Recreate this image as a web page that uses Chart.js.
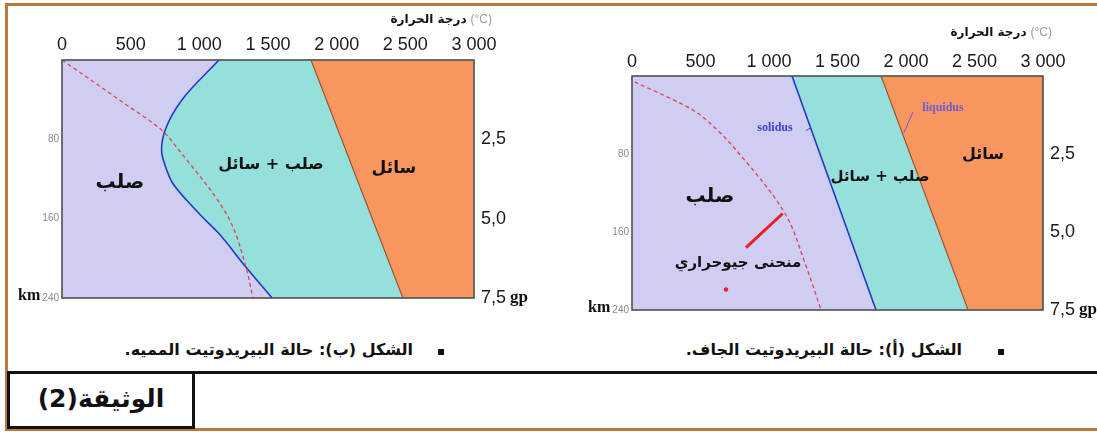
<!DOCTYPE html>
<html lang="ar">
<head>
<meta charset="utf-8">
<script src="https://cdn.jsdelivr.net/npm/chart.js@4"></script>
<style>
  body { margin: 0; width: 1097px; height: 432px; position: relative; overflow: hidden; background: #fff; font-family: "DejaVu Sans", sans-serif; }
  .frame { position: absolute; left: 5px; top: 3px; width: 1100px; height: 428px; box-sizing: border-box; border: 3px solid #b7793f; border-right: none; }
  .panel { position: absolute; top: 0; }
  .caption { position: absolute; top: 340px; direction: rtl; font-weight: bold; font-size: 16px; white-space: nowrap; color: #111; }
  .bullet { position: absolute; top: 349px; width: 6px; height: 6px; background: #111; }
  .rule { position: absolute; left: 193px; right: 0; top: 371px; height: 3px; background: #111; }
  .docbox { position: absolute; left: 7px; top: 371px; width: 188px; height: 58px; box-sizing: border-box; border: 3px solid #111; direction: rtl; text-align: center; font-weight: bold; font-size: 25px; line-height: 50px; color: #111; }
</style>
</head>
<body>
<div class="frame"></div>
<canvas id="chart-b" class="panel" style="left:0" width="545" height="320"></canvas>
<canvas id="chart-a" class="panel" style="left:560px" width="537" height="330"></canvas>

<div class="bullet" style="left:438px"></div>
<div class="caption" style="right:684px">الشكل (ب): حالة البيريدوتيت المميه.</div>
<div class="bullet" style="left:998px"></div>
<div class="caption" style="right:135px">الشكل (أ): حالة البيريدوتيت الجاف.</div>
<div class="rule"></div>
<div class="docbox">الوثيقة(2)</div>

<script>
// axes
const tempTicks = [0, 500, 1000, 1500, 2000, 2500, 3000];
const depthTicks = [0, 80, 160, 240];
const pressureTicks = [0, 2.5, 5.0, 7.5];

// figure (b): hydrated peridotite
const bSolidusDepth = [0, 40, 71, 91, 108, 124, 141, 158, 174, 209, 240];
const bSolidusTemp = [1143, 874, 750, 725, 755, 805, 905, 1020, 1136, 1340, 1530];
const bLiquidusDepth = [0, 240];
const bLiquidusTemp = [1813, 2482];
const bGeothermDepth = [0, 40, 71, 91, 158, 209, 240];
const bGeothermTemp = [0, 415, 728, 852, 1208, 1340, 1390];

// figure (a): dry peridotite
const aSolidusDepth = [0, 240];
const aSolidusTemp = [1168, 1781];
const aLiquidusDepth = [0, 240];
const aLiquidusTemp = [1818, 2453];
const aGeothermDepth = [6, 35, 55, 76, 141, 192, 240];
const aGeothermTemp = [20, 445, 620, 760, 1117, 1263, 1380];
const aPointerDepth = [141, 176];
const aPointerTemp = [1100, 832];
const aDotDepth = [219];
const aDotTemp = [686];
const aSolidusTagDepth = [56, 53];
const aSolidusTagTemp = [1270, 1307];
const aLiquidusTagDepth = [37, 58];
const aLiquidusTagTemp = [2051, 1985];

const SANS = '"Liberation Sans", Arial, sans-serif';
const ARABIC = '"DejaVu Sans", sans-serif';

const pts = (temps, depths) => temps.map((t, i) => ({ x: t, y: depths[i] }));

function fmtTemp(v) {
    if (v < 1000) return String(v);
    return Math.floor(v / 1000) + ' ' + String(v % 1000).padStart(3, '0');
}

// labels written inside each panel
const notes = {
    'chart-b': {
        titleDx: 18, titleDy: -40,
        items: [
            { text: 'صلب', t: 422, d: 124, size: 20 },
            { text: 'صلب + سائل', t: 1522, d: 106, size: 16 },
            { text: 'سائل', t: 2417, d: 109, size: 17 }
        ]
    },
    'chart-a': {
        titleDx: 9, titleDy: -43,
        items: [
            { text: 'صلب', t: 569, d: 124, size: 20 },
            { text: 'صلب + سائل', t: 1810, d: 104, size: 15 },
            { text: 'سائل', t: 2562, d: 81, size: 16 },
            { text: 'منحنى جيوحراري', t: 774, d: 192, size: 15 },
            { text: 'solidus', t: 1044, d: 53, size: 12, latin: true, color: '#3b3fd2' },
            { text: 'liquidus', t: 2270, d: 33, size: 12, latin: true, color: '#6f5ad6' }
        ]
    }
};

const panelText = {
    id: 'panelText',
    afterDraw(chart) {
        const { ctx, chartArea: a, scales: { x, y } } = chart;
        const cfg = notes[chart.canvas.id];
        ctx.save();

        // plot frame
        ctx.strokeStyle = '#4f4f4f';
        ctx.lineWidth = 1.6;
        ctx.strokeRect(a.left, a.top, a.right - a.left, a.bottom - a.top);

        // axis title: arabic then (°C)
        const tx = a.right + cfg.titleDx;
        const ty = a.top + cfg.titleDy;
        ctx.textBaseline = 'middle';
        ctx.textAlign = 'right';
        ctx.font = '12px ' + SANS;
        ctx.fillStyle = '#9a9a9a';
        ctx.fillText('(°C)', tx, ty);
        const cw = ctx.measureText('(°C)').width;
        ctx.font = 'bold 12px ' + ARABIC;
        ctx.fillStyle = '#111';
        ctx.direction = 'rtl';
        ctx.fillText('درجة الحرارة', tx - cw - 4, ty);
        ctx.direction = 'ltr';

        // km and gp units
        const yb = y.getPixelForValue(240);
        ctx.font = '10px ' + SANS;
        const w240 = ctx.measureText('240').width;
        ctx.font = 'bold 16px "Liberation Serif", serif';
        ctx.fillText('km', a.left - 3 - w240 - 2, yb - 2);
        ctx.font = '18px ' + SANS;
        const w75 = ctx.measureText('7,5').width;
        ctx.textAlign = 'left';
        ctx.font = 'bold 17px "Liberation Serif", serif';
        ctx.fillText('gp', a.right + 7 + w75 + 4, yb);

        // region and curve labels
        ctx.textAlign = 'center';
        cfg.items.forEach(n => {
            ctx.fillStyle = n.color || '#111';
            if (n.latin) {
                ctx.direction = 'ltr';
                ctx.font = 'bold ' + n.size + 'px "Liberation Serif", serif';
            } else {
                ctx.direction = 'rtl';
                ctx.font = 'bold ' + n.size + 'px ' + ARABIC;
            }
            ctx.fillText(n.text, x.getPixelForValue(n.t), y.getPixelForValue(n.d));
        });
        ctx.restore();
    }
};

function buildPanel(id, p) {
    const datasets = [
        { data: pts(p.geoT, p.geoD), borderColor: '#e2434b', borderWidth: 1.3, borderDash: [4, 3], fill: false },
        { data: pts(p.solT, p.solD), borderColor: '#2538c8', borderWidth: 1.6, backgroundColor: '#96e0dc', fill: 2 },
        { data: pts(p.liqT, p.liqD), borderColor: '#9b4a25', borderWidth: 1.1, backgroundColor: '#f7975f', fill: { value: 3000 } },
        { data: pts(p.solT, p.solD), borderColor: 'rgba(0,0,0,0)', borderWidth: 0, backgroundColor: '#cfcdf2', fill: { value: 0 } }
    ].concat(p.extra || []);

    return new Chart(document.getElementById(id).getContext('2d'), {
        type: 'line',
        data: { datasets },
        options: {
            indexAxis: 'y',
            responsive: false,
            animation: false,
            layout: { padding: { left: 0, right: 0, top: 0, bottom: p.padBottom } },
            elements: { point: { radius: 0 }, line: { cubicInterpolationMode: 'monotone' } },
            plugins: {
                legend: { display: false },
                tooltip: { enabled: false },
                filler: { drawTime: 'beforeDatasetsDraw' }
            },
            scales: {
                x: {
                    type: 'linear', position: 'top', min: 0, max: 3000,
                    grid: { display: false, drawTicks: false }, border: { display: false },
                    afterBuildTicks: s => { s.ticks = tempTicks.map(v => ({ value: v })); },
                    afterFit: s => { s.height = p.topH; },
                    ticks: { padding: p.tickPad, maxRotation: 0, autoSkip: false, color: '#1a1a1a', font: { family: SANS, size: 18 }, callback: fmtTemp }
                },
                y: {
                    type: 'linear', position: 'left', reverse: true, min: 0, max: 240,
                    grid: { display: false, drawTicks: false }, border: { display: false },
                    afterBuildTicks: s => { s.ticks = depthTicks.map(v => ({ value: v })); },
                    afterFit: s => { s.width = p.leftW; },
                    ticks: { padding: 3, color: '#8a8a8a', font: { family: SANS, size: 10 }, callback: v => v === 0 ? '' : String(v) }
                },
                y2: {
                    type: 'linear', position: 'right', reverse: true, min: 0, max: 7.5,
                    grid: { display: false, drawTicks: false }, border: { display: false },
                    afterBuildTicks: s => { s.ticks = pressureTicks.map(v => ({ value: v })); },
                    afterFit: s => { s.width = p.rightW; },
                    ticks: { padding: 7, color: '#1a1a1a', font: { family: SANS, size: 18 }, callback: v => v === 0 ? '' : v.toFixed(1).replace('.', ',') }
                }
            }
        },
        plugins: [panelText]
    });
}

buildPanel('chart-b', {
    geoT: bGeothermTemp, geoD: bGeothermDepth,
    solT: bSolidusTemp, solD: bSolidusDepth,
    liqT: bLiquidusTemp, liqD: bLiquidusDepth,
    leftW: 62, rightW: 71, topH: 60, padBottom: 22, tickPad: 4
});

buildPanel('chart-a', {
    geoT: aGeothermTemp, geoD: aGeothermDepth,
    solT: aSolidusTemp, solD: aSolidusDepth,
    liqT: aLiquidusTemp, liqD: aLiquidusDepth,
    leftW: 72, rightW: 54, topH: 76, padBottom: 20, tickPad: 3,
    extra: [
        { data: pts(aPointerTemp, aPointerDepth), borderColor: '#ee1c25', borderWidth: 3, fill: false, cubicInterpolationMode: 'default' },
        { data: pts(aDotTemp, aDotDepth), borderColor: '#ee1c25', backgroundColor: '#ee1c25', pointRadius: 1.8, showLine: false, fill: false },
        { data: pts(aSolidusTagTemp, aSolidusTagDepth), borderColor: '#3b3fd2', borderWidth: 1, fill: false, cubicInterpolationMode: 'default' },
        { data: pts(aLiquidusTagTemp, aLiquidusTagDepth), borderColor: '#6f5ad6', borderWidth: 1, fill: false, cubicInterpolationMode: 'default' }
    ]
});
</script>
</body>
</html>
